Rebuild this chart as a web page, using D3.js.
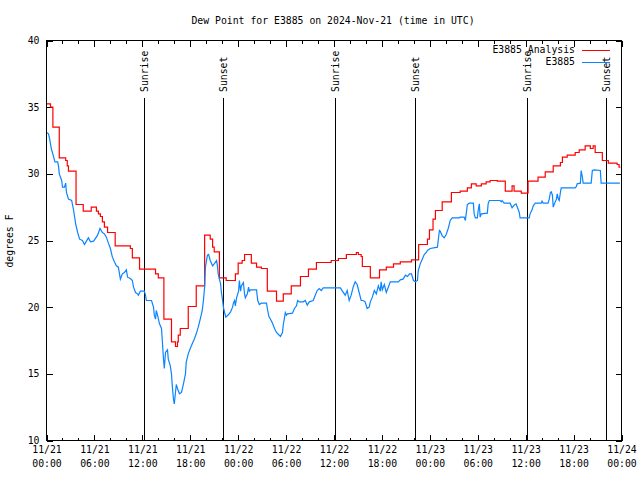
<!DOCTYPE html>
<html>
<head>
<meta charset="utf-8">
<script src="https://cdn.jsdelivr.net/npm/d3@7"></script>
<style>
  html, body { margin: 0; padding: 0; background: #fff; }
  svg { display: block; }
</style>
</head>
<body>
<svg id="chart" width="640" height="480"></svg>
<script>
// ---- DATA (hours since 2024-11-21 00:00 UTC) ----
const analysisHours = [0,0.5,0.8,1.6,2.4,2.6,2.75,3.7,4.6,5.6,6.25,6.5,6.75,7.0,7.25,7.65,8.6,10.5,10.75,11.65,13.65,14.0,14.7,15.65,16.15,16.4,16.5,16.75,17.75,18.75,19.8,20.5,20.8,21.0,21.65,22.5,23.65,24.0,24.5,24.8,25.65,26.3,26.9,27.65,28.8,29.65,30.65,31.8,32.8,33.8,35.65,36.55,37.55,38.8,39.05,39.4,39.55,40.55,41.7,42.55,43.45,44.3,45.7,46.6,47.7,47.95,48.4,48.7,49.55,50.7,51.8,52.7,53.2,53.8,54.45,55.05,55.55,56.45,57.45,58.3,58.55,59.45,60.3,61.55,62.45,63.45,64.35,64.6,65.2,66.2,66.7,67.45,68.1,68.45,68.7,69.6,70.35,71.45,71.7,71.85];
const analysisValues = [35.25,35.0,33.5,31.2,31.0,30.6,30.2,27.7,27.2,27.5,27.2,27.0,26.8,26.4,26.0,25.6,24.6,24.4,23.7,22.85,22.5,22.2,19.1,17.4,17.05,17.4,17.9,18.4,20.05,21.6,25.4,25.1,24.5,24.15,22.2,22.0,22.5,23.3,23.5,23.95,23.3,23.0,22.9,21.2,20.45,21.0,21.6,22.3,22.85,23.35,23.5,23.65,23.95,24.1,23.95,23.8,23.05,22.2,22.8,23.0,23.25,23.4,23.55,24.7,25.1,25.8,26.6,27.25,27.9,28.6,28.7,28.95,29.25,29.1,29.25,29.4,29.5,29.45,28.7,29.1,28.7,28.55,29.45,29.75,30.15,30.6,30.85,31.25,31.4,31.6,31.8,32.1,31.9,32.1,31.6,31.0,30.8,30.7,30.5,30.5];

const stationHours = [0,0.25,0.4,0.6,0.9,1.05,1.4,1.5,1.6,1.9,2.0,2.25,2.4,2.5,2.75,3.15,3.4,3.65,3.9,4.15,4.5,4.75,5.0,5.25,5.5,5.9,6.4,6.7,7.0,7.25,7.5,7.75,8.0,8.25,8.5,8.75,9.0,9.25,9.5,9.75,10.0,10.15,10.5,10.75,10.9,11.15,11.4,11.5,11.75,12.25,12.4,12.5,13.15,13.4,13.5,13.65,13.75,13.9,14.15,14.4,14.5,14.65,14.75,14.9,15.15,15.25,15.5,15.65,15.75,15.9,16.0,16.15,16.25,16.4,16.65,16.9,17.15,17.4,17.5,17.75,18.0,18.25,18.5,18.75,19.0,19.25,19.5,19.65,19.8,19.9,20.15,20.3,20.5,20.8,21.0,21.3,21.4,21.5,21.65,21.8,21.9,22.05,22.15,22.3,22.45,22.8,23.05,23.3,23.4,23.55,23.65,23.8,24.05,24.15,24.3,24.4,24.65,24.8,24.9,25.15,25.3,25.4,25.55,26.3,26.45,26.65,26.9,27.55,27.65,27.85,28.05,28.3,28.55,28.8,29.05,29.3,29.55,29.65,29.8,29.9,30.05,30.15,30.8,31.05,31.3,31.45,31.65,32.15,32.4,32.65,32.9,33.4,33.65,33.9,34.15,34.4,34.65,36.8,37.05,37.4,37.65,37.9,38.15,38.4,38.65,38.9,39.15,39.4,39.65,39.9,40.15,40.4,40.55,40.8,41.05,41.3,41.55,41.8,41.9,42.05,42.3,42.55,42.8,43.05,44.05,44.3,44.65,44.95,45.2,45.45,45.7,45.95,46.2,46.45,46.55,46.8,47.05,47.3,47.55,47.7,48.05,48.95,49.05,49.2,49.3,49.55,49.8,50.05,50.3,50.45,50.55,50.8,51.7,51.8,52.3,52.45,52.55,52.7,52.95,53.45,53.55,53.7,53.95,54.05,54.2,54.3,54.45,55.2,55.3,55.45,56.8,56.95,57.05,57.3,58.05,58.3,58.55,58.8,59.2,59.3,60.45,60.55,60.8,60.95,61.2,61.95,62.05,62.2,62.8,62.95,63.1,63.2,63.35,63.45,63.6,63.85,63.95,64.1,64.2,64.35,64.45,66.2,66.35,66.45,66.85,66.95,67.1,67.2,68.2,68.35,68.6,69.35,69.45,71.8];
const stationValues = [33.1,33.0,32.6,31.9,31.25,30.9,30.9,30.6,30.0,29.5,29.0,29.0,29.3,28.6,28.1,28.0,27.25,26.25,25.6,25.1,25.0,24.7,24.95,25.2,24.9,24.95,25.4,25.9,25.6,25.5,25.25,24.8,24.4,23.75,23.4,23.1,23.0,22.1,22.5,22.6,22.8,22.25,22.15,22.0,21.5,21.1,21.0,20.9,21.2,21.2,20.9,20.5,20.5,20.0,19.4,19.1,19.75,19.4,18.75,18.4,17.5,16.1,15.4,16.6,16.8,16.1,15.6,15.0,14.1,13.1,12.75,13.6,14.2,13.9,13.5,13.6,14.25,15.0,15.9,16.5,16.9,17.25,17.6,18.0,18.5,19.1,19.75,20.5,21.5,23.0,23.9,23.95,23.5,23.1,23.25,23.5,23.1,22.5,22.1,21.75,21.1,20.5,20.0,19.6,19.25,19.45,19.65,20.0,20.3,20.5,20.1,20.7,21.2,22.0,21.2,21.6,21.85,21.0,20.7,21.0,21.5,21.2,21.3,21.3,20.5,20.2,20.3,20.3,19.9,19.3,19.1,18.8,18.4,18.1,17.95,17.8,18.1,18.7,19.2,19.6,19.4,19.5,19.55,19.9,20.1,20.5,20.4,20.4,20.5,20.15,20.4,20.5,20.9,21.25,21.4,21.25,21.45,21.45,21.2,20.9,21.25,20.5,20.9,21.5,21.9,21.7,21.1,20.5,20.5,20.4,19.9,20.0,20.4,20.75,21.25,21.0,21.6,21.2,21.9,21.3,21.7,21.1,21.5,21.9,21.9,22.05,22.1,22.4,22.3,22.5,22.5,22.0,21.9,22.0,22.75,23.25,23.6,23.95,24.1,24.25,24.4,24.5,25.0,25.75,25.7,25.35,25.2,25.45,25.9,26.25,26.5,26.7,26.7,26.75,26.75,26.5,27.0,27.7,27.8,27.8,27.0,26.7,26.7,27.25,27.75,26.75,27.0,27.05,27.75,28.0,28.0,27.9,28.0,27.8,27.8,27.45,27.65,27.75,27.1,26.7,26.7,27.0,27.3,27.6,27.8,27.8,27.95,27.8,27.8,28.1,28.6,28.65,28.4,27.5,27.75,28.1,28.5,28.1,28.0,28.6,28.95,28.95,29.05,29.25,29.3,30.25,29.75,29.3,29.3,30.25,30.3,30.25,29.3,29.3];

const sunHours  = [12.3, 22.19, 36.21, 46.22, 60.24, 70.13];
const sunLabels = ["Sunrise","Sunset","Sunrise","Sunset","Sunrise","Sunset"];

const yTicks = [10, 15, 20, 25, 30, 35, 40];
const seriesNames = ["E3885 Analysis", "E3885"];
const seriesColors = ["#ff0000", "#0a84ff"];
const titleText = "Dew Point for E3885 on 2024-Nov-21 (time in UTC)";
const yLabelText = "degrees F";

// ---- CHART ----
const FONT = "'DejaVu Sans Mono', 'Liberation Mono', monospace";
const FS = "9.8px";
const t0 = Date.UTC(2024, 10, 21);
const toDate = h => new Date(t0 + h * 3600000);

const svg = d3.select("#chart");
const L = 46.5, R = 621.5, T = 40.5, B = 440.5;

const x = d3.scaleUtc().domain([toDate(0), toDate(72)]).range([L, R]);
const y = d3.scaleLinear().domain([10, 40]).range([B, T]);

const fmtDate = d3.utcFormat("%m/%d");
const fmtTime = d3.utcFormat("%H:%M");

// Title
svg.append("text").attr("x", 333).attr("y", 24)
  .attr("text-anchor", "middle").style("font-family", FONT).style("font-size", FS)
  .text(titleText);

// Y label
svg.append("text").attr("transform", "translate(13,241) rotate(-90)")
  .attr("text-anchor", "middle").style("font-family", FONT).style("font-size", FS)
  .text(yLabelText);

function styleAxis(g) {
  g.select(".domain").remove();
  g.selectAll("line").attr("stroke", "#000").attr("shape-rendering", "crispEdges");
  g.selectAll("text").style("font-family", FONT).style("font-size", FS).attr("fill", "#000");
}

// Bottom major
const majorTicks = d3.range(0, 73, 6).map(toDate);
const minorTicks = d3.range(0, 73, 2).filter(h => h % 6 !== 0).map(toDate);

const gB = svg.append("g").attr("transform", `translate(0,${B})`)
  .call(d3.axisBottom(x).tickValues(majorTicks).tickSize(-6).tickPadding(6).tickFormat(""));
styleAxis(gB);
gB.selectAll(".tick text").each(function(d) {
  const t = d3.select(this);
  t.text(null);
  t.append("tspan").attr("x", 0).attr("dy", "0.71em").text(fmtDate(d));
  t.append("tspan").attr("x", 0).attr("dy", "1.35em").text(fmtTime(d));
});
const gBm = svg.append("g").attr("transform", `translate(0,${B})`)
  .call(d3.axisBottom(x).tickValues(minorTicks).tickSize(-3).tickFormat(""));
styleAxis(gBm);

// Top mirror
const gT = svg.append("g").attr("transform", `translate(0,${T})`)
  .call(d3.axisTop(x).tickValues(majorTicks).tickSize(-6).tickFormat(""));
styleAxis(gT);
const gTm = svg.append("g").attr("transform", `translate(0,${T})`)
  .call(d3.axisTop(x).tickValues(minorTicks).tickSize(-3).tickFormat(""));
styleAxis(gTm);

// Left
const gL = svg.append("g").attr("transform", `translate(${L},0)`)
  .call(d3.axisLeft(y).tickValues(yTicks).tickSize(-6).tickPadding(7).tickFormat(d3.format("d")));
styleAxis(gL);
// Right mirror
const gR = svg.append("g").attr("transform", `translate(${R},0)`)
  .call(d3.axisRight(y).tickValues(yTicks).tickSize(-6).tickFormat(""));
styleAxis(gR);

// Sunrise / sunset lines
sunHours.forEach((h, i) => {
  const xx = Math.round(x(toDate(h)) - 0.5) + 0.5;
  svg.append("line").attr("x1", xx).attr("x2", xx).attr("y1", 98).attr("y2", B)
    .attr("stroke", "#000").attr("shape-rendering", "crispEdges");
  svg.append("text").attr("transform", `translate(${xx},92) rotate(-90)`)
    .attr("dy", "0.35em").style("font-family", FONT).style("font-size", FS)
    .text(sunLabels[i]);
});

// Data lines
const analysis = analysisHours.map((h, i) => ({ t: toDate(h), v: analysisValues[i] }));
const station = stationHours.map((h, i) => ({ t: toDate(h), v: stationValues[i] }));

svg.append("path").datum(analysis)
  .attr("fill", "none").attr("stroke", seriesColors[0]).attr("stroke-width", 1.2)
  .attr("d", d3.line().x(d => x(d.t)).y(d => y(d.v)).curve(d3.curveStepAfter));
svg.append("path").datum(station)
  .attr("fill", "none").attr("stroke", seriesColors[1]).attr("stroke-width", 1.2)
  .attr("d", d3.line().x(d => x(d.t)).y(d => y(d.v)));

// Plot border
svg.append("rect").attr("x", L).attr("y", T).attr("width", R - L).attr("height", B - T)
  .attr("fill", "none").attr("stroke", "#000").attr("shape-rendering", "crispEdges");

// Legend
seriesNames.forEach((name, i) => {
  const ly = 50 + i * 12;
  svg.append("text").attr("x", 575).attr("y", ly).attr("dy", "0.35em")
    .attr("text-anchor", "end").style("font-family", FONT).style("font-size", FS)
    .text(name);
  svg.append("line").attr("x1", 582).attr("x2", 610).attr("y1", ly + 0.5).attr("y2", ly + 0.5)
    .attr("stroke", seriesColors[i]).attr("shape-rendering", "crispEdges");
});
</script>
</body>
</html>
